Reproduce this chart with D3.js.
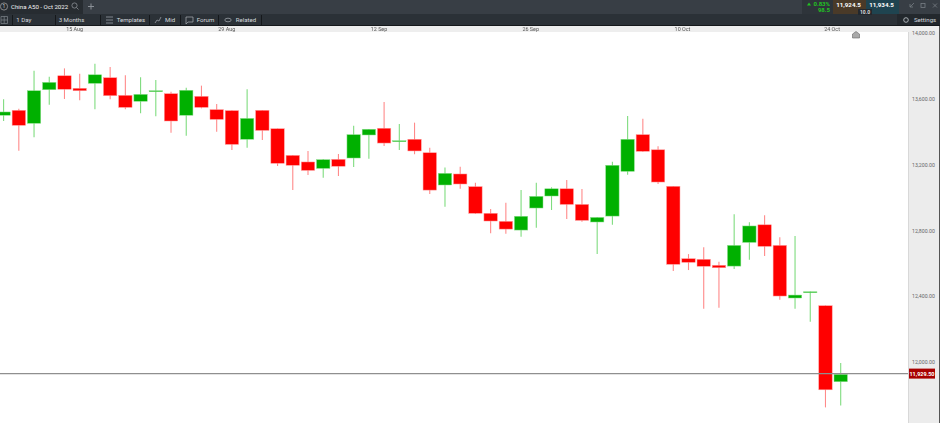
<!DOCTYPE html>
<html><head><meta charset="utf-8">
<script src="https://cdn.jsdelivr.net/npm/d3@7"></script>
<style>html,body{margin:0;padding:0;background:#fff;overflow:hidden}svg{display:block;font-family:Roboto,"Liberation Sans",sans-serif;filter:blur(0.3px)}</style>
</head><body><svg id="c" width="940" height="423"></svg>
<script>
const opens  =[13500,13530,13451,13655,13740,13664,13694,13728,13621,13585,13647,13631,13500,13615,13534,13528,13354,13530,13418,13256,13216,13177,13232,13240,13380,13421,13343,13354,13272,13076,13143,13066,12904,12855,12802,12936,13009,13053,12958,12851,12887,13159,13382,13290,13068,12628,12624,12588,12583,12727,12834,12709,12389,12423,12342,11880];
const highs  =[13597,13540,13771,13734,13785,13753,13813,13793,13743,13731,13714,13643,13667,13680,13568,13530,13658,13532,13420,13258,13283,13234,13264,13436,13417,13580,13447,13455,13303,13183,13187,13090,12930,12968,13045,13090,13062,13106,13052,12881,13218,13495,13479,13311,13070,12656,12697,12610,12898,12849,12892,12758,12766,12429,12344,11994];
const lows   =[13465,13284,13366,13564,13599,13591,13536,13597,13536,13512,13494,13394,13376,13542,13400,13289,13303,13349,13191,13045,13137,13120,13131,13185,13236,13313,13289,13263,13021,12944,13053,12900,12782,12780,12762,12816,12924,12869,12853,12656,12834,13138,13276,13082,12553,12559,12324,12330,12565,12622,12644,12378,12324,12245,11724,11736];
const closes =[13520,13439,13649,13700,13658,13649,13746,13619,13548,13627,13649,13465,13652,13548,13475,13323,13481,13408,13208,13196,13165,13230,13190,13382,13415,13331,13345,13283,13045,13147,13082,12904,12857,12808,12886,13007,13053,12958,12861,12879,13196,13354,13281,13094,12594,12606,12582,12573,12709,12827,12703,12401,12407,12427,11831,11925];
const yTicks =[14000,13600,13200,12800,12400,12000];
const dateLabels=["15 Aug","29 Aug","12 Sep","26 Sep","10 Oct","24 Oct"];
const datePositions=[4.63,14.63,24.63,34.6,44.57,54.4];
const lastPrice=11929.5;
const tabTitle="China A50 - Oct 2022";
const toolbarItems=[["1 Day",16.3],["3 Months",58.7],["Templates",116.7],["Mid",165],["Forum",196.7],["Related",235.7]];
const toolbarSeps=[12,55,100,149,180,218,261];

const svg=d3.select("#c");
const x=d3.scaleLinear().domain([0,55]).range([3.6,840.7]);
const y=d3.scaleLinear().domain([14000,12000]).range([33,362]);
const UP="#00b000",DOWN="#ff0000";
const idx=d3.range(opens.length);

// panels
svg.append("rect").attr("x",908).attr("y",32).attr("width",32).attr("height",391).attr("fill","#ececec");
svg.append("rect").attr("x",0).attr("y",26).attr("width",940).attr("height",6).attr("fill","#eeeeee");
svg.append("line").attr("x1",908.5).attr("x2",908.5).attr("y1",32).attr("y2",423).attr("stroke","#d8d8d8");
svg.append("line").attr("x1",939.5).attr("x2",939.5).attr("y1",26).attr("y2",423).attr("stroke","#555");

// wicks and bodies
const g=svg.append("g");
g.selectAll("line.w").data(idx).join("line").attr("class","w")
 .attr("x1",i=>x(i)).attr("x2",i=>x(i)).attr("y1",i=>y(highs[i])).attr("y2",i=>y(lows[i]))
 .attr("stroke",i=>closes[i]>=opens[i]?"#7fdc7f":"#ff8a8a").attr("stroke-width",1.1);
g.selectAll("rect.b").data(idx).join("rect").attr("class","b")
 .attr("x",i=>x(i)-6.7).attr("width",13.4)
 .attr("y",i=>y(Math.max(opens[i],closes[i])))
 .attr("height",i=>Math.max(1,Math.abs(y(opens[i])-y(closes[i]))))
 .attr("fill",i=>closes[i]>=opens[i]?UP:DOWN)
 .attr("stroke",i=>closes[i]>=opens[i]?"#8fe08f":"#ff9a9a").attr("stroke-width",0.5);

// last price line
svg.append("line").attr("x1",0).attr("x2",908).attr("y1",y(lastPrice)).attr("y2",y(lastPrice)).attr("stroke","#8f8f8f").attr("stroke-width",1.2);

// axes
const yAxis=d3.axisRight(y).tickValues(yTicks).tickSize(0).tickPadding(0).tickFormat(d3.format(",.2f"));
const ya=svg.append("g").attr("transform","translate(912,0)").call(yAxis);
ya.select(".domain").remove();
ya.selectAll("text").attr("fill","#666").attr("font-size",5.2).style("font-family","Roboto");
const xAxis=d3.axisBottom(x).tickValues(datePositions).tickSize(0).tickPadding(0).tickFormat((d,i)=>dateLabels[i]);
const xa=svg.append("g").attr("transform","translate(0,26)").call(xAxis);
xa.select(".domain").remove();
xa.selectAll("text").attr("fill","#555").attr("font-size",5.4).attr("dy","0.85em").style("font-family","Roboto");

// last price tag
svg.append("rect").attr("x",909).attr("y",y(lastPrice)-5).attr("width",26).attr("height",10).attr("fill","#a80000");
svg.append("text").attr("x",922).attr("y",y(lastPrice)+2).attr("text-anchor","middle").attr("fill","#fff").attr("font-size",5.5).attr("font-weight",700).text(d3.format(",.2f")(lastPrice));

// alert marker
svg.append("path").attr("d","M852.5 38V34L856 31.5L859.5 34V38Z").attr("fill","#a9a9a9").attr("stroke","#666").attr("stroke-width",0.6);

// top bars
svg.append("rect").attr("width",940).attr("height",14).attr("fill","#383e45");
svg.append("rect").attr("width",83).attr("height",14).attr("fill","#272c31");
svg.append("rect").attr("y",14).attr("width",940).attr("height",11).attr("fill","#2b3137");
svg.append("rect").attr("y",25).attr("width",940).attr("height",1).attr("fill","#15181b");
svg.append("circle").attr("cx",4).attr("cy",6.5).attr("r",3.6).attr("fill","none").attr("stroke","#aaa").attr("stroke-width",0.7);
svg.append("text").attr("x",4).attr("y",8.3).attr("text-anchor","middle").attr("fill","#ccc").attr("font-size",5).text("1");
svg.append("text").attr("x",11).attr("y",9).attr("fill","#f2f2f2").attr("font-size",6.1).text(tabTitle);
svg.append("circle").attr("cx",74.5).attr("cy",5.5).attr("r",2.6).attr("fill","none").attr("stroke","#8b9097").attr("stroke-width",0.8);
svg.append("line").attr("x1",76.5).attr("y1",7.5).attr("x2",78.5).attr("y2",9.5).attr("stroke","#8b9097").attr("stroke-width",0.8);
svg.append("path").attr("d","M88 6.5H94M91 3.5V9.5").attr("stroke","#8b9097").attr("stroke-width",1);
svg.selectAll("line.s").data(toolbarSeps).join("line").attr("class","s").attr("x1",d=>d+.5).attr("x2",d=>d+.5).attr("y1",15).attr("y2",25).attr("stroke","#15181b");
svg.selectAll("text.t").data(toolbarItems).join("text").attr("class","t").attr("x",d=>d[1]).attr("y",22).attr("fill","#d5d9dd").attr("font-size",6.1).text(d=>d[0]);
// toolbar icons
svg.append("path").attr("d","M1 16.5H7.5V23.5H1ZM1 20H7.5M4.2 16.5V23.5").attr("fill","none").attr("stroke","#7f868d").attr("stroke-width",0.7);
svg.append("path").attr("d","M106 17H113M106 20H113M106 23H113").attr("stroke","#8b9097").attr("stroke-width",0.9);
svg.append("path").attr("d","M155 23L157 20L159 21L161 17").attr("fill","none").attr("stroke","#8b9097").attr("stroke-width",0.9);
svg.append("path").attr("d","M186 17H193V22H188L186 24Z").attr("fill","none").attr("stroke","#aab0b6").attr("stroke-width",0.7);
svg.append("ellipse").attr("cx",228).attr("cy",20).attr("rx",3.2).attr("ry",1.8).attr("fill","none").attr("stroke","#aab0b6").attr("stroke-width",0.7);

// quote box
svg.append("rect").attr("x",802).attr("y",0).attr("width",31).attr("height",14).attr("fill","#2e343a");
svg.append("rect").attr("x",833).attr("y",0).attr("width",33).attr("height",14).attr("fill","#4a3a28");
svg.append("rect").attr("x",866).attr("y",0).attr("width",33).attr("height",14).attr("fill","#1f4450");
svg.append("rect").attr("x",858).attr("y",9).attr("width",14).attr("height",6).attr("fill","#23282d");
svg.append("path").attr("d","M807 5.5L809 2.5L811 5.5Z").attr("fill","#22c422");
svg.append("text").attr("x",830).attr("y",6).attr("text-anchor","end").attr("fill","#22c422").attr("font-size",6).attr("font-weight",700).text("0.83%");
svg.append("text").attr("x",830).attr("y",12).attr("text-anchor","end").attr("fill","#22c422").attr("font-size",6).attr("font-weight",700).text("98.5");
svg.append("text").attr("x",848.5).attr("y",6.5).attr("text-anchor","middle").attr("fill","#fff").attr("font-size",6.2).attr("font-weight",700).text("11,924.5");
svg.append("text").attr("x",881.5).attr("y",6.5).attr("text-anchor","middle").attr("fill","#fff").attr("font-size",6.2).attr("font-weight",700).text("11,934.5");
svg.append("text").attr("x",865).attr("y",14).attr("text-anchor","middle").attr("fill","#ddd").attr("font-size",5).attr("font-weight",700).text("10.0");
svg.append("rect").attr("x",897).attr("y",14).attr("width",43).attr("height",11).attr("fill","#23282d");
svg.append("circle").attr("cx",906).attr("cy",20).attr("r",2.3).attr("fill","none").attr("stroke","#b8bdc2").attr("stroke-width",0.9);
svg.append("text").attr("x",914).attr("y",22).attr("fill","#d5d9dd").attr("font-size",6.1).text("Settings");
svg.append("path").attr("d","M910 7L914 3M910 4V7H913").attr("fill","none").attr("stroke","#777d84").attr("stroke-width",.8);
svg.append("rect").attr("x",921).attr("y",3.5).attr("width",4).attr("height",4).attr("fill","none").attr("stroke","#777d84").attr("stroke-width",.8);
svg.append("path").attr("d","M933 3.5L937 7.5M937 3.5L933 7.5").attr("stroke","#777d84").attr("stroke-width",.8);
</script></body></html>
